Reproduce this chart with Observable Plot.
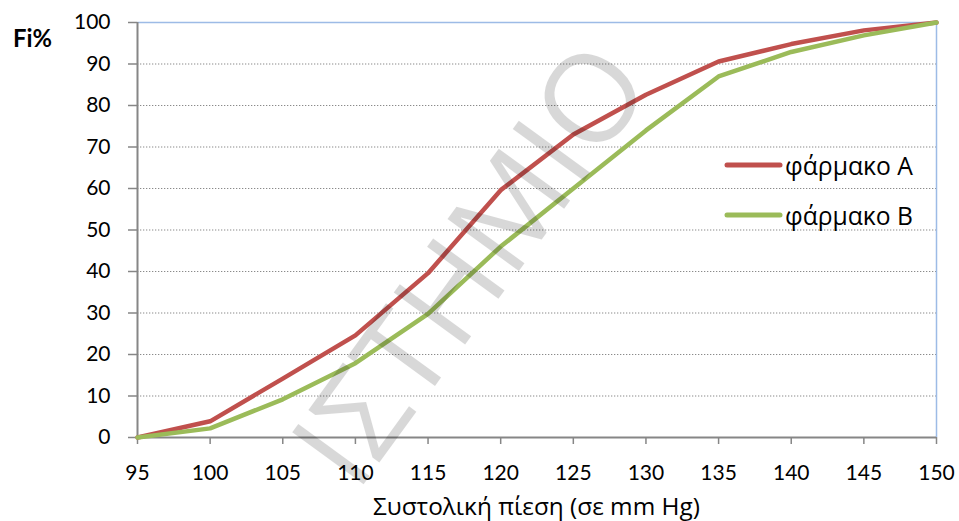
<!DOCTYPE html>
<html>
<head>
<meta charset="utf-8">
<script src="https://cdn.jsdelivr.net/npm/d3@7"></script>
<script src="https://cdn.jsdelivr.net/npm/@observablehq/plot@0.6"></script>
<style>
  html, body { margin: 0; padding: 0; background: #fff; }
  #wrap { position: relative; width: 959px; height: 521px; }
</style>
</head>
<body>
<div id="wrap"></div>
<script>
const pressure = [95, 100, 105, 110, 115, 120, 125, 130, 135, 140, 145, 150];
const drugA = [0, 3.9, 14.2, 24.6, 39.6, 59.6, 73.0, 82.6, 90.6, 94.8, 98.1, 100];
const drugB = [0, 2.2, 9.2, 17.9, 29.8, 46.0, 60.0, 74.0, 87.0, 92.9, 96.9, 100];
const seriesNames = ["φάρμακο A", "φάρμακο B"];
const seriesColors = ["#c0504d", "#9bbb59"];
const xTicks = [95, 100, 105, 110, 115, 120, 125, 130, 135, 140, 145, 150];
const yTicks = [0, 10, 20, 30, 40, 50, 60, 70, 80, 90, 100];
const xTitle = "Συστολική πίεση (σε mm Hg)";
const yTitle = "Fi%";
const watermark = "ΙΣΤΗΜΙΟ";

const rows = [];
pressure.forEach((p, i) => rows.push({x: p, y: drugA[i], s: seriesNames[0]}));
pressure.forEach((p, i) => rows.push({x: p, y: drugB[i], s: seriesNames[1]}));

const FONT = "Lato, 'Open Sans', sans-serif";
const GREEK = "'Open Sans', 'Noto Sans', sans-serif";

const chart = Plot.plot({
  width: 959,
  height: 521,
  marginLeft: 137,
  marginRight: 23,
  marginTop: 22,
  marginBottom: 84,
  style: {fontFamily: FONT, color: "#000", background: "#fff"},
  x: {domain: [95, 150]},
  y: {domain: [0, 100]},
  color: {domain: seriesNames, range: seriesColors},
  marks: [
    Plot.ruleY(yTicks.filter(d => d > 0 && d < 100), {stroke: "#8a8a8a", strokeWidth: 1.2, strokeDasharray: "1.3,1.7"}),
    Plot.ruleY([100], {stroke: "#9dbbe6", strokeWidth: 1.5}),
    Plot.ruleX([150], {stroke: "#9dbbe6", strokeWidth: 1.5}),
    Plot.ruleY([0], {stroke: "#868686", strokeWidth: 2}),
    Plot.ruleX([95], {stroke: "#868686", strokeWidth: 2}),
    Plot.axisY({ticks: yTicks, tickSize: 9, tickPadding: 18, fontSize: 21, stroke: "#868686", strokeWidth: 1.5, tickFormat: d => String(d), label: null}),
    Plot.axisX({ticks: xTicks, tickSize: 7, tickPadding: 21, fontSize: 21, stroke: "#868686", strokeWidth: 1.5, tickFormat: d => String(d), label: null}),
    Plot.line(rows, {x: "x", y: "y", z: "s", stroke: "s", strokeWidth: 4.5, strokeLinejoin: "round", strokeLinecap: "round"})
  ]
});

const wrap = document.getElementById("wrap");
wrap.appendChild(chart);
const svg = d3.select(chart);

function fitText(str, family, weight, targetW, x, baseline, anchor) {
  const t = svg.append("text")
    .attr("x", x).attr("y", baseline)
    .attr("text-anchor", anchor)
    .attr("font-family", family)
    .attr("font-weight", weight)
    .attr("fill", "#000")
    .attr("font-size", 20)
    .text(str);
  const w = t.node().getComputedTextLength();
  if (w > 0) t.attr("font-size", 20 * targetW / w);
  return t;
}

fitText(yTitle, FONT, "bold", 39, 13, 47, "start");
fitText(xTitle, GREEK, "normal", 327, 536.5, 515, "middle");

const legY = [165, 215];
seriesNames.forEach((n, i) => {
  svg.append("line")
    .attr("x1", 727).attr("x2", 780)
    .attr("y1", legY[i]).attr("y2", legY[i])
    .attr("stroke", seriesColors[i]).attr("stroke-width", 5)
    .attr("stroke-linecap", "round");
  fitText(n, GREEK, "normal", 128, 785, legY[i] + 10, "start");
});

// faint diagonal watermark of the source document (only its fully visible part),
// sized so that the centres of "Σ" and "Ο" fall where they are in the original
(function () {
  const sigma = [361.7, 411.7], omicron = [590, 98];
  const dx = omicron[0] - sigma[0], dy = omicron[1] - sigma[1];
  const dist = Math.hypot(dx, dy);
  const ang = Math.atan2(dy, dx) * 180 / Math.PI;
  const wm = svg.append("g")
    .attr("transform", `translate(${sigma[0]},${sigma[1]}) rotate(${ang})`)
    .attr("opacity", 0.15)
    .attr("pointer-events", "none");
  const t = wm.append("text")
    .attr("x", 0).attr("y", 0)
    .attr("font-family", "'Open Sans', 'DejaVu Sans', sans-serif")
    .attr("font-size", 100)
    .attr("fill", "#000")
    .text(watermark);
  const n = t.node();
  const c = i => (n.getStartPositionOfChar(i).x + n.getEndPositionOfChar(i).x) / 2;
  const iS = watermark.indexOf("Σ"), iO = watermark.lastIndexOf("Ο");
  const size = 100 * dist / (c(iO) - c(iS));
  t.attr("font-size", size);
  t.attr("x", -c(iS)).attr("y", 0.357 * size);
})();
</script>
</body>
</html>
